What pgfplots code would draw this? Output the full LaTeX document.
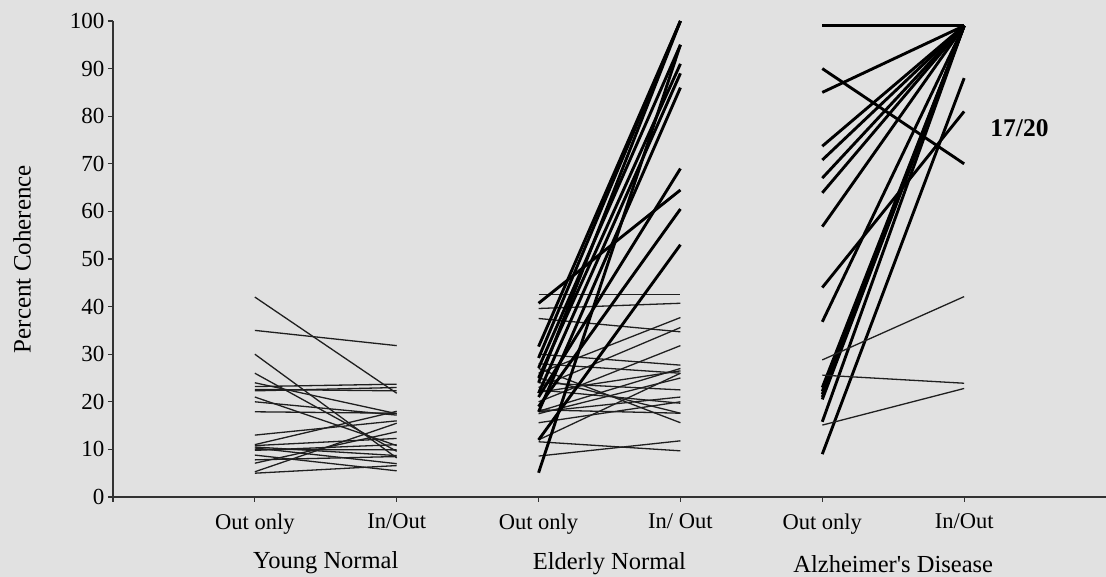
\documentclass[border=0pt]{standalone}
\usepackage{fontspec}
\setmainfont{Liberation Serif}
\usepackage{pgfplots}
\pgfplotsset{compat=1.18}
\definecolor{bgc}{RGB}{225,225,225}
\definecolor{axc}{RGB}{50,50,50}
\begin{document}
\begin{tikzpicture}
\fill[bgc] (-113pt,-80pt) rectangle (993pt,497pt);
\begin{axis}[
  at={(0,0)}, anchor=south west,
  scale only axis, width=993pt, height=476pt,
  xmin=0, xmax=7, ymin=0, ymax=100,
  axis lines*=left,
  axis line style={axc, line width=1.2pt},
  clip=false,
  xtick={0,1,2,3,4,5,6},
  xticklabels={,Out only,In/Out,Out only,In/ Out,Out only,In/Out},
  ytick={0,10,...,100},
  tick align=outside,
  major tick length=5pt,
  tick style={axc, line width=1.1pt},
  /pgf/number format/assume math mode=true,
  xticklabel style={font=\fontsize{22.5}{26}\selectfont, yshift=-8pt},
  yticklabel style={font=\fontsize{23}{27}\selectfont},
  ylabel={Percent Coherence},
  ylabel style={font=\fontsize{25}{29}\selectfont, at={(axis description cs:-0.0916,0.5)}, anchor=center},
  thinl/.style={draw=black!88, line width=1.3pt},
  thickl/.style={draw=black, line width=2.9pt},
]
% Young Normal
\addplot[thinl] coordinates {(1,42) (2,21.8)};
\addplot[thinl] coordinates {(1,35) (2,31.8)};
\addplot[thinl] coordinates {(1,30) (2,8.2)};
\addplot[thinl] coordinates {(1,26) (2,9.6)};
\addplot[thinl] coordinates {(1,24) (2,17.5)};
\addplot[thinl] coordinates {(1,23.2) (2,23.7)};
\addplot[thinl] coordinates {(1,22.3) (2,23)};
\addplot[thinl] coordinates {(1,22.6) (2,22.3)};
\addplot[thinl] coordinates {(1,21) (2,10.8)};
\addplot[thinl] coordinates {(1,20) (2,17.2)};
\addplot[thinl] coordinates {(1,17.9) (2,17.6)};
\addplot[thinl] coordinates {(1,13) (2,16)};
\addplot[thinl] coordinates {(1,11) (2,18)};
\addplot[thinl] coordinates {(1,10.8) (2,12.3)};
\addplot[thinl] coordinates {(1,10.5) (2,8.7)};
\addplot[thinl] coordinates {(1,10) (2,9.9)};
\addplot[thinl] coordinates {(1,9.8) (2,11)};
\addplot[thinl] coordinates {(1,8.8) (2,5.5)};
\addplot[thinl] coordinates {(1,7.8) (2,8.5)};
\addplot[thinl] coordinates {(1,7.1) (2,13.7)};
\addplot[thinl] coordinates {(1,5.3) (2,15.5)};
\addplot[thinl] coordinates {(1,5) (2,6.6)};
\addplot[thinl] coordinates {(1,10.3) (2,7)};
% Elderly Normal - thin
\addplot[thinl] coordinates {(3,42.6) (4,42.6)};
\addplot[thinl] coordinates {(3,39.6) (4,40.7)};
\addplot[thinl] coordinates {(3,37.5) (4,34.7)};
\addplot[thinl] coordinates {(3,26) (4,37.7)};
\addplot[thinl] coordinates {(3,23) (4,35.6)};
\addplot[thinl] coordinates {(3,20) (4,31.8)};
\addplot[thinl] coordinates {(3,30) (4,27.7)};
\addplot[thinl] coordinates {(3,28) (4,26)};
\addplot[thinl] coordinates {(3,24) (4,22.5)};
\addplot[thinl] coordinates {(3,22) (4,26.5)};
\addplot[thinl] coordinates {(3,18) (4,27)};
\addplot[thinl] coordinates {(3,18.3) (4,17.6)};
\addplot[thinl] coordinates {(3,17.9) (4,21)};
\addplot[thinl] coordinates {(3,15.6) (4,20)};
\addplot[thinl] coordinates {(3,25) (4,17.6)};
\addplot[thinl] coordinates {(3,27) (4,15.6)};
\addplot[thinl] coordinates {(3,12) (4,26)};
\addplot[thinl] coordinates {(3,11.6) (4,9.7)};
\addplot[thinl] coordinates {(3,8.6) (4,11.8)};
\addplot[thinl] coordinates {(3,22.5) (4,19.7)};
\addplot[thinl] coordinates {(3,17.5) (4,25)};
% Elderly Normal - thick
\addplot[thickl] coordinates {(3,31.6) (4,100)};
\addplot[thickl] coordinates {(3,29.2) (4,100)};
\addplot[thickl] coordinates {(3,24) (4,100)};
\addplot[thickl] coordinates {(3,27.1) (4,95)};
\addplot[thickl] coordinates {(3,5.1) (4,95)};
\addplot[thickl] coordinates {(3,25) (4,91)};
\addplot[thickl] coordinates {(3,21.8) (4,89)};
\addplot[thickl] coordinates {(3,17.9) (4,86)};
\addplot[thickl] coordinates {(3,21) (4,69)};
\addplot[thickl] coordinates {(3,40.7) (4,64.5)};
\addplot[thickl] coordinates {(3,19) (4,60.5)};
\addplot[thickl] coordinates {(3,12) (4,53)};
% Alzheimer's Disease - thick
\addplot[thickl] coordinates {(5,99) (6,99)};
\addplot[thickl] coordinates {(5,90) (6,70)};
\addplot[thickl] coordinates {(5,85) (6,99)};
\addplot[thickl] coordinates {(5,73.7) (6,99)};
\addplot[thickl] coordinates {(5,70.8) (6,99)};
\addplot[thickl] coordinates {(5,67) (6,99)};
\addplot[thickl] coordinates {(5,63.9) (6,99)};
\addplot[thickl] coordinates {(5,56.8) (6,99)};
\addplot[thickl] coordinates {(5,44) (6,81)};
\addplot[thickl] coordinates {(5,36.8) (6,99)};
\addplot[thickl] coordinates {(5,23) (6,99)};
\addplot[thickl] coordinates {(5,22.2) (6,99)};
\addplot[thickl] coordinates {(5,21.6) (6,99)};
\addplot[thickl] coordinates {(5,21) (6,99)};
\addplot[thickl] coordinates {(5,20.5) (6,99)};
\addplot[thickl] coordinates {(5,15.8) (6,99)};
\addplot[thickl] coordinates {(5,9) (6,88)};
% Alzheimer's Disease - thin
\addplot[thinl] coordinates {(5,28.8) (6,42.1)};
\addplot[thinl] coordinates {(5,25.6) (6,23.9)};
\addplot[thinl] coordinates {(5,15.1) (6,22.8)};
% labels
\node[font=\fontsize{24.5}{28}\selectfont, inner sep=1pt] at (axis cs:1.5,0) [yshift=-66pt] {Young Normal};
\node[font=\fontsize{24.5}{28}\selectfont, inner sep=1pt] at (axis cs:3.5,0) [yshift=-67pt] {Elderly Normal};
\node[font=\fontsize{24.5}{28}\selectfont, inner sep=1pt] at (axis cs:5.5,0) [yshift=-67pt] {Alzheimer\textquotesingle s Disease};
\node[font=\bfseries\fontsize{25.5}{29}\selectfont] at (axis cs:6.39,77.5) {17/20};
\end{axis}
\pgfresetboundingbox
\path[use as bounding box] (-113pt,-80pt) rectangle (993pt,497pt);
\end{tikzpicture}
\end{document}
